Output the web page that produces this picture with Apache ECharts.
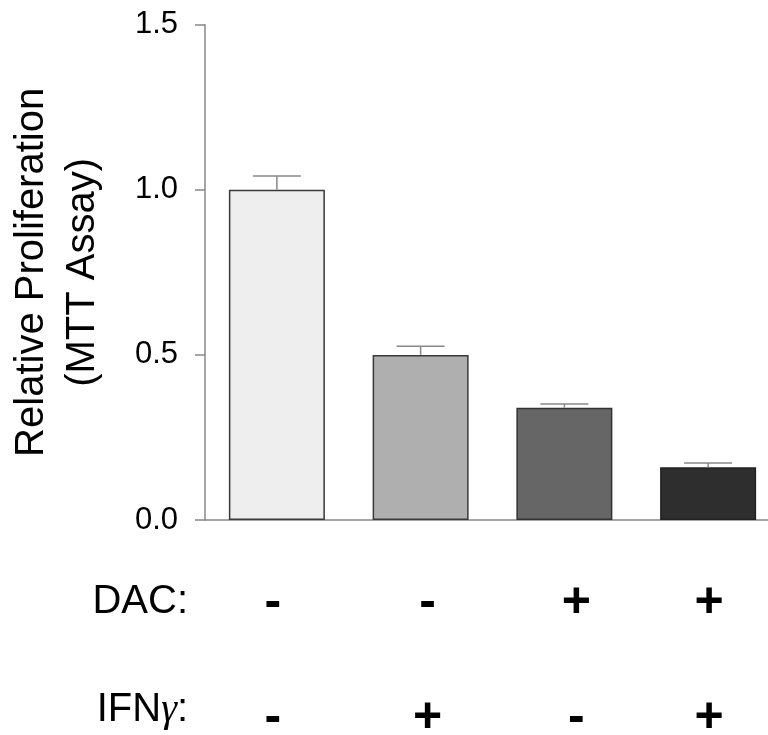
<!DOCTYPE html>
<html>
<head>
<meta charset="utf-8">
<script src="https://cdn.jsdelivr.net/npm/echarts@6/dist/echarts.min.js"></script>
<style>
html,body{margin:0;padding:0;background:#fff;}
#chart{width:768px;height:735px;}
</style>
</head>
<body>
<div id="chart"></div>
<script>
// ---- data ----
var categories = ['Control', 'IFNγ', 'DAC', 'DAC + IFNγ'];
var values = [1.0, 0.5, 0.34, 0.16];
var errors = [0.042, 0.026, 0.011, 0.013];
var dacSigns = ['-', '-', '+', '+'];
var ifnSigns = ['-', '+', '-', '+'];
var yTicks = [0.0, 0.5, 1.0, 1.5];
var barColors = ['#eeeeee', '#afafaf', '#666666', '#2e2e2e'];
var barBorders = ['#3a3a3a', '#3a3a3a', '#333333', '#222222'];

var FONT = '"Liberation Sans", Arial, sans-serif';
var chart = echarts.init(document.getElementById('chart'));

// small per-column label nudges (pixels) to match hand-placed signs
var signShift = [-4, 7, 12, 1];
function makeRich(dy) {
  var r = {};
  signShift.forEach(function (s, i) {
    r['s' + i] = {
      fontSize: 50, fontWeight: 'bold', fontFamily: FONT, color: '#000',
      padding: [dy > 0 ? 2 * dy : 0, s < 0 ? -2 * s : 0, dy < 0 ? -2 * dy : 0, s > 0 ? 2 * s : 0]
    };
  });
  return r;
}

function signAxis(signs, offset, name, nameRich, dy) {
  return {
    type: 'category', data: signs, position: 'bottom', offset: offset,
    gridIndex: 0,
    axisLine: { show: false }, axisTick: { show: false },
    axisLabel: {
      margin: 0, verticalAlign: 'middle',
      formatter: function (v, i) { return '{s' + i + '|' + v + '}'; },
      rich: makeRich(dy)
    },
    name: name, nameLocation: 'start', nameGap: 17,
    nameTextStyle: {
      fontSize: 40, fontFamily: FONT, color: '#000', align: 'right', verticalAlign: 'middle',
      rich: nameRich
    }
  };
}

var option = {
  animation: false,
  backgroundColor: '#ffffff',
  grid: { left: 205, top: 24.7, width: 575, height: 495.3, containLabel: false, outerBoundsMode: 'none' },
  xAxis: [
    {
      type: 'category', data: categories, position: 'bottom',
      axisLine: { lineStyle: { color: '#888888', width: 1.5 } },
      axisTick: { show: false }, axisLabel: { show: false }
    },
    signAxis(dacSigns, 82, 'DAC:', {}, 1),
    signAxis(ifnSigns, 190, 'IFN{g|γ}:', {
      g: { fontSize: 40, fontStyle: 'italic', fontFamily: '"Liberation Serif", "DejaVu Serif", serif', color: '#000' }
    }, 8)
  ],
  yAxis: {
    type: 'value', min: yTicks[0], max: yTicks[yTicks.length - 1], interval: yTicks[1] - yTicks[0],
    axisLine: { show: true, lineStyle: { color: '#888888', width: 1.5 } },
    axisTick: { show: true, inside: false, length: 10, lineStyle: { color: '#888888', width: 1.5 } },
    splitLine: { show: false },
    axisLabel: {
      margin: 27, fontSize: 31, fontFamily: FONT, color: '#000',
      formatter: function (v) { return v.toFixed(1); }
    },
    name: 'Relative Proliferation\n(MTT Assay)',
    nameLocation: 'middle', nameGap: 97,
    nameTextStyle: { fontSize: 40, fontFamily: FONT, color: '#000', lineHeight: 51 }
  },
  series: [
    {
      type: 'bar', xAxisIndex: 0, barWidth: 96,
      data: values.map(function (v, i) {
        return { value: v, itemStyle: { color: barColors[i], borderColor: barBorders[i], borderWidth: 1.5 } };
      }),
      z: 2
    },
    {
      type: 'custom', xAxisIndex: 0, z: 3,
      data: values.map(function (v, i) { return [i, v, v + errors[i]]; }),
      renderItem: function (params, api) {
        var base = api.coord([api.value(0), api.value(1)]);
        var top = api.coord([api.value(0), api.value(2)]);
        var half = 24;
        var st = { stroke: '#888888', lineWidth: 1.5 };
        return {
          type: 'group',
          children: [
            { type: 'line', shape: { x1: base[0], y1: base[1], x2: top[0], y2: top[1] }, style: st },
            { type: 'line', shape: { x1: top[0] - half, y1: top[1], x2: top[0] + half, y2: top[1] }, style: st }
          ]
        };
      }
    }
  ]
};
chart.setOption(option);
</script>
</body>
</html>
